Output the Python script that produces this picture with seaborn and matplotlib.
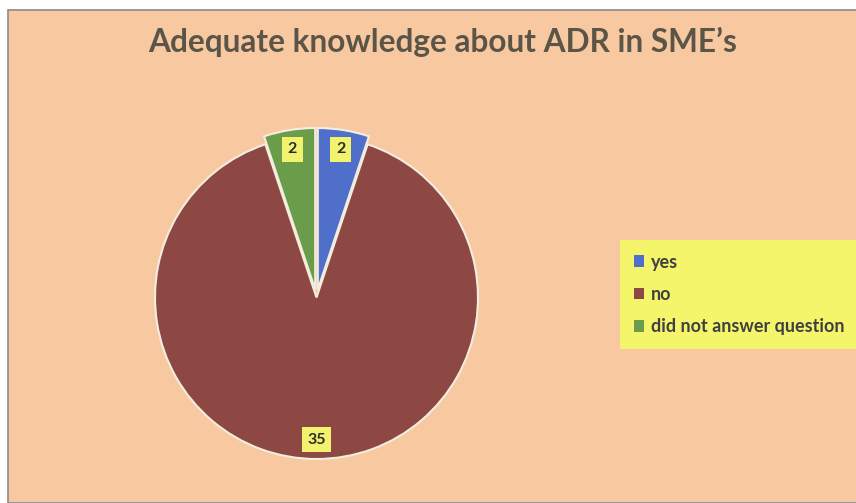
#!/usr/bin/env python3

import matplotlib

matplotlib.use("Agg")
import matplotlib.pyplot as plt
import matplotlib.patches as mpatches
import seaborn as sns

# Survey answers
categories = ["yes", "no", "did not answer question"]
counts = [2, 35, 2]
colors = ["#4F6FCB", "#8E4843", "#6A9C49"]

title = "Adequate knowledge about ADR in SME\u2019s"


def make_plot(outfile="out.png"):
    """
    Draw the pie with count labels and a side legend.
    """
    sns.set_style("white")
    plt.rcParams["font.family"] = ["Lato", "DejaVu Sans"]

    fig = plt.figure(figsize=(8.56, 5.03), dpi=100)
    fig.patch.set_facecolor("white")

    # Chart area: peach background with a thin gray border
    bg = mpatches.Rectangle(
        (8 / 856, 0), 1.0, 1 - 10 / 503,
        transform=fig.transFigure, facecolor="#F8C9A0",
        edgecolor="#8A8A8A", linewidth=1.2, zorder=-10,
    )
    fig.patches.append(bg)

    fig.text(
        443 / 856, 1 - 42 / 503, title, ha="center", va="center",
        fontsize=22.8, fontweight="bold", color="#5A5548",
    )

    ax = fig.add_axes([155 / 856, 44 / 503, 323 / 856, 323 / 503])
    ax.set_zorder(2)
    ax.set_facecolor("none")
    wedges, texts, autotexts = ax.pie(
        counts,
        colors=colors,
        startangle=90,
        counterclock=False,
        explode=[0.05, 0, 0.05],
        autopct=lambda p: f"{round(p * sum(counts) / 100):d}",
        pctdistance=0.88,
        wedgeprops={"edgecolor": "#F3EDE0", "linewidth": 1.5},
        textprops={"fontsize": 11.5, "fontweight": "bold", "color": "#2A2A2A"},
    )
    for t in autotexts:
        t.set_bbox({"facecolor": "#F2F26E", "edgecolor": "none", "pad": 4})
    ax.set_xlim(-1.0, 1.0)
    ax.set_ylim(-1.0, 1.0)
    ax.set_aspect("equal")

    handles = [
        mpatches.Patch(facecolor=c, edgecolor="none", label=l)
        for c, l in zip(colors, categories)
    ]
    leg = fig.legend(
        handles=handles,
        loc="upper left",
        bbox_to_anchor=(620 / 856, 1 - 240 / 503),
        borderaxespad=0,
        frameon=True,
        fancybox=False,
        facecolor="#F5F56B",
        edgecolor="none",
        framealpha=1,
        handlelength=0.6,
        handleheight=0.6,
        handletextpad=0.35,
        labelspacing=0.85,
        borderpad=0.75,
        prop={"size": 13, "weight": "bold"},
    )
    leg.set_zorder(3)
    for t in leg.get_texts():
        t.set_color("#404040")

    fig.savefig(outfile, dpi=100)
    plt.close(fig)


def main():
    make_plot()


if __name__ == "__main__":
    main()
